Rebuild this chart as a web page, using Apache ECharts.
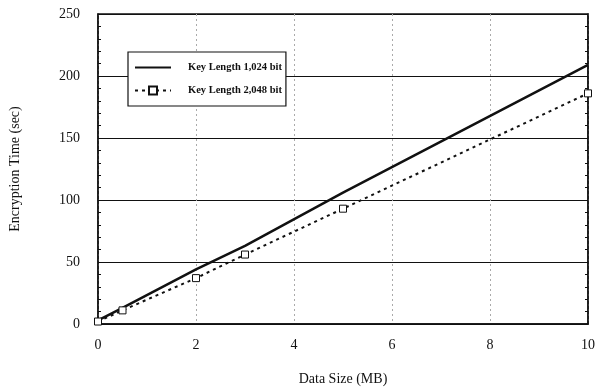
<!DOCTYPE html>
<html><head><meta charset="utf-8">
<script src="https://cdn.jsdelivr.net/npm/echarts@6/dist/echarts.min.js"></script>
<style>html,body{margin:0;padding:0;background:#fff}#c{width:599px;height:392px}</style>
</head><body><div id="c"></div>
<script>
var dataSize = [0, 0.5, 2, 3, 5, 10];
var key1024 = [3, 13, 44, 63, 106, 209];
var key2048 = [2, 11, 37, 56, 93, 186];
var xTicks = [0, 2, 4, 6, 8, 10];
var yTicks = [0, 50, 100, 150, 200, 250];
var seriesNames = ['Key Length 1,024 bit', 'Key Length 2,048 bit'];

function pairs(xs, ys) { return xs.map(function (x, i) { return [x, ys[i]]; }); }

var font = '"Liberation Serif", "DejaVu Serif", serif';
var chart = echarts.init(document.getElementById('c'));
chart.setOption({
  animation: false,
  backgroundColor: '#fff',
  grid: { left: 98, right: 11, top: 14, bottom: 68, show: true, borderColor: '#111', borderWidth: 1.5, backgroundColor: 'transparent' },
  legend: {
    orient: 'vertical', left: 128, top: 52, itemWidth: 36, itemHeight: 10, itemGap: 12,
    padding: [10, 4, 10, 6], borderColor: '#111', borderWidth: 1.2, backgroundColor: '#fff',
    textStyle: { fontFamily: font, fontSize: 10.5, fontWeight: 'bold', color: '#111', padding: [0, 0, 0, 12] },
    data: [
      { name: seriesNames[0], itemStyle: { opacity: 0 } },
      { name: seriesNames[1] }
    ]
  },
  xAxis: {
    type: 'value', min: xTicks[0], max: xTicks[xTicks.length - 1], interval: 2,
    name: 'Data Size (MB)', nameLocation: 'middle', nameGap: 48,
    nameTextStyle: { fontFamily: font, fontSize: 14, color: '#111' },
    axisLine: { show: true, lineStyle: { color: '#111', width: 1.5 } },
    axisTick: { show: false },
    axisLabel: { fontFamily: font, fontSize: 14, color: '#111', margin: 14 },
    splitLine: { show: true, lineStyle: { color: '#aaa', type: [2, 3], width: 1 } }
  },
  yAxis: [{
    type: 'value', min: yTicks[0], max: yTicks[yTicks.length - 1], interval: 50,
    name: 'Encryption Time (sec)', nameLocation: 'middle', nameGap: 76, nameRotate: 90,
    nameTextStyle: { fontFamily: font, fontSize: 14, color: '#111' },
    axisLine: { show: true, lineStyle: { color: '#111', width: 1.5 } },
    axisTick: { show: true, inside: true, length: 5, lineStyle: { color: '#111' } },
    minorTick: { show: true, splitNumber: 5, length: 3, lineStyle: { color: '#111' } },
    axisLabel: { fontFamily: font, fontSize: 14, color: '#111', margin: 18 },
    splitLine: { show: true, lineStyle: { color: '#111', width: 1.2 } }
  }, {
    type: 'value', min: yTicks[0], max: yTicks[yTicks.length - 1], interval: 50, position: 'right',
    axisLine: { show: true, lineStyle: { color: '#111', width: 1.5 } },
    axisTick: { show: true, inside: true, length: 5, lineStyle: { color: '#111' } },
    minorTick: { show: true, splitNumber: 5, length: 3, lineStyle: { color: '#111' } },
    axisLabel: { show: false },
    splitLine: { show: false }
  }],
  series: [{
    name: seriesNames[0], type: 'line', data: pairs(dataSize, key1024),
    symbol: 'none', lineStyle: { color: '#111', width: 2.5 }, itemStyle: { color: '#111' }
  }, {
    name: seriesNames[1], type: 'line', data: pairs(dataSize, key2048),
    symbol: 'rect', symbolSize: 7, showAllSymbol: true,
    lineStyle: { color: '#111', width: 2, type: [3, 4] },
    itemStyle: { color: '#fff', borderColor: '#111', borderWidth: 1 }
  }]
});
</script></body></html>
